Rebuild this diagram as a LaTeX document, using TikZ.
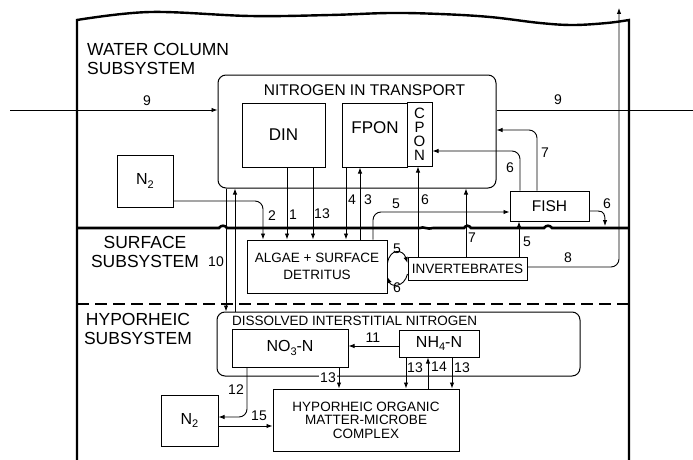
\documentclass[tikz,border=0pt]{standalone}
\usepackage{fontspec}
\setmainfont{Liberation Sans}
\usetikzlibrary{arrows.meta}
\newcommand{\myfs}[1]{\fontsize{#1}{#1}\selectfont}
\newcommand{\mysub}[1]{\raisebox{-0.45ex}{\fontsize{11}{11}\selectfont #1}}
\begin{document}
\begin{tikzpicture}[x=1pt,y=-1pt,
  box/.style={draw,line width=1pt,inner sep=0pt},
  lbl/.style={inner sep=0pt},
  num/.style={inner sep=0pt,font=\myfs{14}},
  ln/.style={line width=0.9pt},
  arr/.style={line width=0.9pt,-{Latex[length=6pt,width=4.5pt]}},
  heavy/.style={line width=2.4pt},
  title/.style={inner sep=0pt,font=\fontsize{17.5}{19}\selectfont}]
\useasboundingbox (0,0) rectangle (693,460);

% outer frame and subsystem boundaries
\draw[heavy,line join=miter] (77,460) -- plot[smooth,tension=0.6] coordinates {(77,20) (150,12) (250,16) (330,15) (390,13) (440,14) (490,17) (540,23) (573,25) (607,23) (629,20)} -- (629,460);
\draw[line width=2.6pt] (77,228) -- (219,228) .. controls (221,225) and (225,225) .. (227,228) -- (420,228) .. controls (423,226) and (428,230) .. (433,228) -- (464,228) .. controls (466,225) and (469,225) .. (471,228) -- (544,228) .. controls (546,225) and (550,225) .. (552,228) -- (629,228);
\draw[line width=2.6pt,dash pattern=on 12pt off 6pt] (77,304) -- (629,304);

% subsystem titles
\node[title,anchor=north west,align=left] (wcs) at (87,43) {WATER COLUMN\\SUBSYSTEM};
\node[title,anchor=north,align=center] (ss) at (145,236) {SURFACE\\SUBSYSTEM};
\node[title,anchor=north,align=center] (hs) at (138,313) {HYPORHEIC\\SUBSYSTEM};

% water column boxes
\node[box,rounded corners=8pt,minimum width=278pt,minimum height=113pt] (nit) at (357,131.5) {};
\node[lbl,font=\myfs{15.5}] (nitt) at (364.5,90) {NITROGEN IN TRANSPORT};
\node[box,minimum width=83pt,minimum height=64pt,font=\myfs{17}] (din) at (283.5,135) {DIN};
\node[box,minimum width=65pt,minimum height=64pt] (fpon) at (374.5,135) {};
\node[lbl,font=\myfs{17}] (fponl) at (375,128) {FPON};
\node[box,minimum width=25pt,minimum height=64pt,align=center,font=\fontsize{15}{14}\selectfont] (cpon) at (419.5,134) {C\\P\\O\\N};
\node[box,minimum width=56pt,minimum height=52pt,font=\myfs{16}] (n2a) at (145,181) {N\mysub{2}};
\node[box,minimum width=79pt,minimum height=30pt,font=\myfs{15.5}] (fish) at (549.5,206) {FISH};

% surface boxes
\node[box,minimum width=140pt,minimum height=53pt,align=center,font=\fontsize{13.5}{16.5}\selectfont] (algae) at (317,266.5) {ALGAE + SURFACE\\DETRITUS};
\node[box,minimum width=119pt,minimum height=23pt,font=\myfs{13.5}] (invert) at (467.5,268.5) {INVERTEBRATES};

% hyporheic boxes
\node[box,rounded corners=8pt,minimum width=363pt,minimum height=64pt] (dini) at (398.5,344) {};
\node[lbl,anchor=west,font=\myfs{13.5}] (dinit) at (232,321) {DISSOLVED INTERSTITIAL NITROGEN};
\node[box,minimum width=116pt,minimum height=38pt,font=\myfs{16}] (no3) at (290,348) {NO\mysub{3}-N};
\node[box,minimum width=80pt,minimum height=27pt,font=\myfs{16}] (nh4) at (439,343.5) {NH\mysub{4}-N};
\node[box,minimum width=186pt,minimum height=62pt,align=center,font=\fontsize{13.5}{13.5}\selectfont] (hommc) at (366,420) {HYPORHEIC ORGANIC\\MATTER-MICROBE\\COMPLEX};
\node[box,minimum width=57pt,minimum height=51pt,font=\myfs{16}] (n2b) at (189.5,420.5) {N\mysub{2}};

% free ends
\coordinate (w9) at (10,110);
\coordinate (e9) at (693,110);
\coordinate (top8) at (619,8);
\coordinate (fish6end) at (605,226);

% flow 9
\draw[arr] (w9) -- (nit.west |- w9);
\draw[ln] (nit.east |- e9) -- (e9);
\node[num] (l9a) at (147,101) {9};
\node[num] (l9b) at (558,100) {9};

% flows from/to water column
\draw[arr,rounded corners=8pt] (n2a.east |- 0,201) -- (263,201) -- (263,0 |- algae.north);
\draw[arr] (287,0 |- din.south) -- (287,0 |- algae.north);
\draw[arr] (313,0 |- din.south) -- (313,0 |- algae.north);
\draw[arr] (346,0 |- fpon.south) -- (346,0 |- algae.north);
\draw[arr] (360,0 |- algae.north) -- (360,0 |- fpon.south);
\draw[arr,rounded corners=8pt] (373,0 |- algae.north) -- (373,212) -- (fish.west |- 0,212);
\draw[arr] (418,0 |- invert.north) -- (418,0 |- cpon.south);
\draw[arr] (466,0 |- invert.north) -- (466,0 |- nit.south);
\draw[arr] (519,0 |- invert.north) -- (519,0 |- fish.south);
\draw[arr,rounded corners=8pt] (537,0 |- fish.north) -- (537,130) -- (nit.east |- 0,130);
\draw[arr,rounded corners=8pt] (520,0 |- fish.north) -- (520,151) -- (cpon.east |- 0,151);
\draw[arr] (fish.east |- 0,211) -- (598,211) .. controls (604,211) and (605,215) .. (fish6end);
\draw[arr,rounded corners=8pt] (invert.east |- 0,267) -- (619,267) -- (top8);
\draw[arr] (algae.east |- 0,263) .. controls (390,248) and (403,249) .. (invert.west |- 0,263);
\draw[arr] (invert.west |- 0,274) .. controls (404,288) and (391,287) .. (algae.east |- 0,277);

% flow 10
\draw[arr] (226,0 |- nit.south) -- (226,0 |- dini.north);
\draw[arr] (235,0 |- dini.north) -- (235,0 |- nit.south);

% hyporheic flows
\draw[arr] (nh4.west |- 0,346) -- (no3.east |- 0,346);
\draw[arr] (339,0 |- no3.south) -- (339,0 |- hommc.north);
\draw[arr] (406,0 |- nh4.south) -- (406,0 |- hommc.north);
\draw[arr] (428,0 |- hommc.north) -- (428,0 |- nh4.south);
\draw[arr] (452,0 |- nh4.south) -- (452,0 |- hommc.north);
\draw[arr,rounded corners=8pt] (247,0 |- no3.south) -- (247,417) -- (n2b.east |- 0,417);
\draw[arr] (n2b.east |- 0,426) -- (hommc.west |- 0,426);

% numbers
\node[num] (l2) at (272,216) {2};
\node[num] (l1) at (293,215) {1};
\node[num] (l13a) at (322,214) {13};
\node[num] (l4) at (352,200) {4};
\node[num] (l3) at (368,200) {3};
\node[num] (l5a) at (396,204) {5};
\node[num] (l6a) at (425,200) {6};
\node[num] (l6b) at (510,168) {6};
\node[num] (l7a) at (545,153) {7};
\node[num] (l7b) at (472,238) {7};
\node[num] (l5b) at (527,242) {5};
\node[num] (l6c) at (607,204) {6};
\node[num] (l8) at (568,258) {8};
\node[num] (l10) at (216,262) {10};
\node[num] (l5c) at (397,249) {5};
\node[num] (l6d) at (397,288) {6};
\node[num] (l11) at (373,338) {11};
\node[num,fill=white,inner sep=1pt] (l13b) at (328,378) {13};
\node[num] (l12) at (236,390) {12};
\node[num] (l15) at (259,416) {15};
\node[num] (l13c) at (415,368) {13};
\node[num] (l14) at (439,367) {14};
\node[num] (l13d) at (462,368) {13};
\end{tikzpicture}
\end{document}
